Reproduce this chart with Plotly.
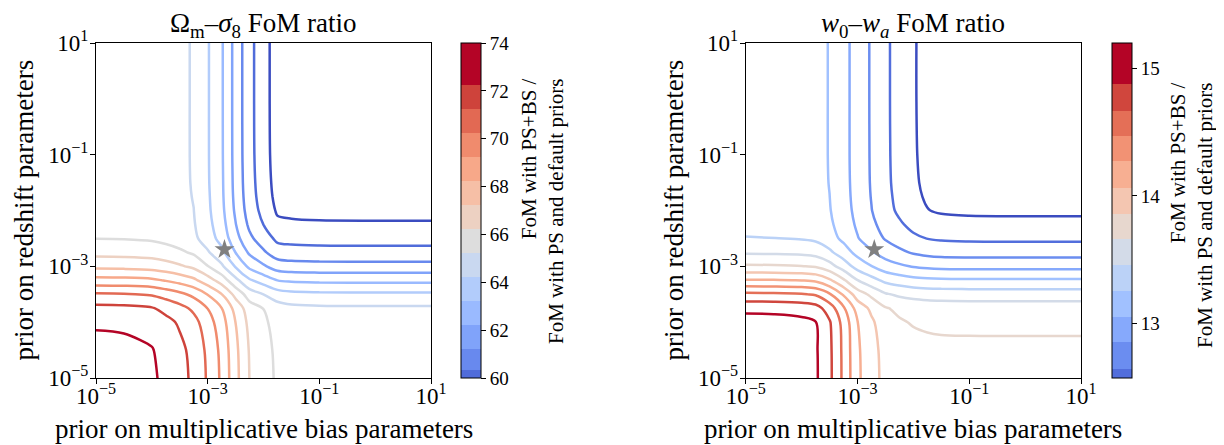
import numpy as np
import plotly.graph_objects as go

# ---------------- data ----------------
# grid of prior widths, as log10 exponents
log10_prior_m = [-5, -4.5, -4, -3.75, -3.5, -3.25, -3, -2.75, -2.5, -2.25, -2, -1.75, -1.5, -1, 0, 1]
log10_prior_z = [-5, -4.5, -4, -3.75, -3.5, -3.25, -3, -2.75, -2.5, -2.25, -2, -1.75, -1.5, -1, 0, 1]

# Omega_m - sigma_8 FoM ratio, rows follow log10_prior_z, columns follow log10_prior_m
fom_ratio_om_s8 = [
    [74.40, 74.35, 74.15, 73.78, 73.35, 72.79, 71.88, 70.82, 69.31, 67.98, 67.42, 66.84, 66.62, 66.53, 66.50, 66.50],
    [74.30, 74.25, 74.05, 73.68, 73.25, 72.70, 71.79, 70.74, 69.24, 67.92, 67.36, 66.79, 66.57, 66.48, 66.45, 66.45],
    [73.88, 73.83, 73.64, 73.28, 72.87, 72.33, 71.45, 70.44, 68.99, 67.71, 67.18, 66.63, 66.42, 66.33, 66.30, 66.30],
    [73.30, 73.25, 73.07, 72.72, 72.32, 71.80, 70.98, 70.02, 68.66, 67.46, 66.98, 66.47, 66.26, 66.18, 66.15, 66.15],
    [72.11, 72.07, 71.90, 71.59, 71.23, 70.75, 69.95, 69.02, 67.69, 66.51, 65.99, 65.46, 65.27, 65.20, 65.17, 65.17],
    [70.36, 70.32, 70.18, 69.93, 69.62, 69.21, 68.45, 67.56, 66.27, 65.13, 64.56, 63.99, 63.85, 63.78, 63.76, 63.76],
    [68.74, 68.71, 68.59, 68.40, 68.13, 67.78, 67.04, 66.18, 64.91, 63.77, 63.14, 62.53, 62.40, 62.35, 62.33, 62.33],
    [67.69, 67.66, 67.56, 67.40, 67.17, 66.85, 66.12, 65.26, 63.98, 62.84, 62.14, 61.48, 61.38, 61.33, 61.32, 61.32],
    [66.98, 66.96, 66.87, 66.73, 66.52, 66.23, 65.50, 64.65, 63.36, 62.21, 61.48, 60.78, 60.70, 60.66, 60.64, 60.64],
    [66.80, 66.78, 66.69, 66.58, 66.37, 66.08, 65.31, 64.41, 63.04, 61.80, 60.99, 60.22, 60.14, 60.10, 60.09, 60.09],
    [66.70, 66.68, 66.60, 66.49, 66.29, 66.01, 65.20, 64.26, 62.84, 61.55, 60.69, 59.87, 59.80, 59.76, 59.75, 59.75],
    [66.65, 66.63, 66.55, 66.44, 66.24, 65.96, 65.15, 64.19, 62.74, 61.43, 60.54, 59.70, 59.63, 59.59, 59.58, 59.58],
    [66.62, 66.60, 66.52, 66.42, 66.22, 65.93, 65.11, 64.16, 62.69, 61.37, 60.47, 59.62, 59.55, 59.51, 59.50, 59.50],
    [66.60, 66.58, 66.50, 66.40, 66.20, 65.92, 65.09, 64.13, 62.65, 61.32, 60.40, 59.55, 59.48, 59.44, 59.43, 59.43],
    [66.60, 66.58, 66.50, 66.40, 66.20, 65.92, 65.09, 64.12, 62.64, 61.30, 60.38, 59.52, 59.45, 59.41, 59.40, 59.40],
    [66.60, 66.58, 66.50, 66.40, 66.20, 65.92, 65.09, 64.12, 62.64, 61.30, 60.38, 59.52, 59.45, 59.41, 59.40, 59.40],
]

# w0 - wa FoM ratio
fom_ratio_w0_wa = [
    [15.300, 15.294, 15.270, 15.230, 15.046, 14.758, 14.436, 14.278, 14.140, 14.100, 14.084, 14.076, 14.072, 14.070, 14.070, 14.070],
    [15.296, 15.290, 15.266, 15.226, 15.042, 14.754, 14.430, 14.270, 14.130, 14.086, 14.068, 14.058, 14.052, 14.050, 14.050, 14.050],
    [15.280, 15.274, 15.248, 15.206, 15.020, 14.730, 14.406, 14.234, 14.080, 14.020, 13.986, 13.966, 13.956, 13.952, 13.950, 13.950],
    [15.150, 15.144, 15.120, 15.080, 14.904, 14.628, 14.320, 14.158, 14.014, 13.960, 13.930, 13.914, 13.906, 13.902, 13.900, 13.900],
    [14.842, 14.836, 14.816, 14.778, 14.622, 14.376, 14.102, 13.954, 13.820, 13.766, 13.732, 13.714, 13.706, 13.700, 13.700, 13.700],
    [14.416, 14.412, 14.394, 14.362, 14.232, 14.028, 13.804, 13.672, 13.554, 13.500, 13.462, 13.442, 13.432, 13.426, 13.424, 13.424],
    [14.028, 14.024, 14.008, 13.980, 13.876, 13.708, 13.524, 13.406, 13.296, 13.234, 13.186, 13.160, 13.146, 13.140, 13.138, 13.138],
    [13.774, 13.770, 13.756, 13.730, 13.638, 13.496, 13.338, 13.222, 13.112, 13.040, 12.980, 12.946, 12.928, 12.920, 12.918, 12.918],
    [13.606, 13.602, 13.588, 13.564, 13.482, 13.354, 13.212, 13.096, 12.986, 12.908, 12.838, 12.796, 12.776, 12.766, 12.764, 12.764],
    [13.560, 13.556, 13.542, 13.514, 13.436, 13.308, 13.170, 13.044, 12.922, 12.828, 12.744, 12.694, 12.670, 12.658, 12.656, 12.656],
    [13.540, 13.536, 13.520, 13.492, 13.412, 13.282, 13.144, 13.006, 12.872, 12.764, 12.664, 12.606, 12.578, 12.564, 12.560, 12.560],
    [13.530, 13.526, 13.510, 13.480, 13.402, 13.270, 13.132, 12.992, 12.856, 12.744, 12.640, 12.578, 12.548, 12.534, 12.530, 12.530],
    [13.524, 13.520, 13.504, 13.474, 13.394, 13.264, 13.126, 12.984, 12.846, 12.732, 12.626, 12.564, 12.534, 12.518, 12.514, 12.514],
    [13.520, 13.516, 13.500, 13.470, 13.390, 13.260, 13.122, 12.980, 12.840, 12.726, 12.618, 12.554, 12.524, 12.508, 12.504, 12.504],
    [13.520, 13.516, 13.500, 13.470, 13.390, 13.260, 13.122, 12.978, 12.838, 12.722, 12.614, 12.550, 12.520, 12.504, 12.500, 12.500],
    [13.520, 13.516, 13.500, 13.470, 13.390, 13.260, 13.122, 12.978, 12.838, 12.722, 12.614, 12.550, 12.520, 12.504, 12.500, 12.500],
]

levels_om_s8 = [60, 74, 1]        # start, end, step
levels_w0_wa = [12.6, 15.21, 0.2]

cbar_bounds_om_s8 = [60, 60.35, 61.2, 62.22, 63.22, 64.22, 65.23, 66.23, 67.23, 68.23, 69.24, 70.24, 71.24, 72.26, 74]
cbar_bounds_w0_wa = [12.57, 12.64, 12.85, 13.05, 13.25, 13.455, 13.66, 13.86, 14.065, 14.27, 14.47, 14.67, 14.88, 15.2]
cbar_ticks_om_s8 = [60, 62, 64, 66, 68, 70, 72, 74]
cbar_ticks_w0_wa = [13, 14, 15]

axis_tick_exponents = [-5, -3, -1, 1]
axis_tick_labels = ["10<sup>\u22125</sup>", "10<sup>\u22123</sup>", "10<sup>\u22121</sup>", "10<sup>1</sup>"]
default_prior = [0.002, 0.002]   # (multiplicative bias, redshift)

titles = ["\u03a9<sub>m</sub>\u2013<i>\u03c3</i><sub>8</sub> FoM ratio",
          "<i>w</i><sub>0</sub>\u2013<i>w</i><sub><i>a</i></sub> FoM ratio"]
xlabel = "prior on multiplicative bias parameters"
ylabel = "prior on redshift parameters"
cbar_title = "FoM with PS+BS /<br>FoM with PS and default priors"

# ---------------- styling ----------------
SERIF = "Liberation Serif"
CW = [(59,76,192),(68,90,204),(77,104,215),(87,117,225),(98,130,234),(108,142,241),(119,154,247),
      (130,165,251),(141,176,254),(152,185,255),(163,194,255),(174,201,253),(184,208,249),(194,213,244),
      (204,217,238),(213,219,230),(221,221,221),(229,216,209),(236,211,197),(241,204,185),(245,196,173),
      (247,187,160),(247,177,148),(247,166,135),(244,154,123),(241,141,111),(236,127,99),(229,112,88),
      (222,96,77),(213,80,66),(203,62,56),(192,40,47),(180,4,38)]
coolwarm_scale = [[i / (len(CW) - 1), "rgb(%d,%d,%d)" % c] for i, c in enumerate(CW)]


def cw(t):
    t = min(max(t, 0.0), 1.0) * (len(CW) - 1)
    i = min(int(t), len(CW) - 2)
    f = t - i
    c = [CW[i][k] + f * (CW[i + 1][k] - CW[i][k]) for k in range(3)]
    return "rgb(%d,%d,%d)" % tuple(round(v) for v in c)


def step_scale(bounds):
    lo, hi = bounds[0], bounds[-1]
    n = len(bounds) - 1
    sc = []
    for i in range(n):
        col = cw((i + 1) / n)
        sc.append([(bounds[i] - lo) / (hi - lo), col])
        sc.append([(bounds[i + 1] - lo) / (hi - lo), col])
    sc[0][0] = 0.0
    sc[-1][0] = 1.0
    return sc


# the page body has an 8 px default margin: the figure is sized and placed to compensate
OFF = 8
W, H = 1224 - OFF, 445 - OFF
ML, MR, MT, MB = 96 - OFF, 143, 43 - OFF, 67
PW = W - ML - MR
PH = H - MT - MB
px = lambda p: (p - OFF - ML) / PW          # page pixel x -> paper x
py = lambda p: (H - MB - (p - OFF)) / PH    # page pixel y -> paper y

dom1 = [0.0, px(431)]
dom2 = [px(745.7), 1.0]

fig = go.Figure()

star_xy = np.log10(default_prior)
panels = [
    (fom_ratio_om_s8, levels_om_s8, cbar_bounds_om_s8, cbar_ticks_om_s8, "x", "y", px(461)),
    (fom_ratio_w0_wa, levels_w0_wa, cbar_bounds_w0_wa, cbar_ticks_w0_wa, "x2", "y2", px(1112)),
]
for z, lev, bounds, cticks, xa, ya, cbx in panels:
    fig.add_trace(go.Contour(
        x=log10_prior_m, y=log10_prior_z, z=z,
        autocontour=False,
        contours=dict(start=lev[0], end=lev[1], size=lev[2], coloring="lines"),
        colorscale=coolwarm_scale, showscale=False,
        line=dict(width=2.5, smoothing=0.9),
        xaxis=xa, yaxis=ya, hoverinfo="skip",
    ))
    fig.add_trace(go.Scatter(
        x=[star_xy[0]], y=[star_xy[1]], mode="markers",
        marker=dict(symbol="star", size=15, color="#808080", line=dict(width=0)),
        xaxis=xa, yaxis=ya, showlegend=False, hoverinfo="skip",
    ))
    fig.add_trace(go.Scatter(
        x=[star_xy[0], star_xy[0]], y=[star_xy[1], star_xy[1]], mode="markers",
        marker=dict(size=1, opacity=0, color=[bounds[0], bounds[-1]],
                    cmin=bounds[0], cmax=bounds[-1], colorscale=step_scale(bounds),
                    showscale=True,
                    colorbar=dict(
                        x=cbx, xanchor="left", y=0.5, yanchor="middle",
                        len=1, lenmode="fraction", thickness=20, thicknessmode="pixels",
                        xpad=0, ypad=0, outlinewidth=1, outlinecolor="black",
                        tickmode="array", tickvals=cticks, ticks="outside", ticklen=5,
                        tickwidth=1, tickcolor="black",
                        tickfont=dict(family=SERIF, size=19, color="black"),
                    )),
        xaxis=xa, yaxis=ya, showlegend=False, hoverinfo="skip",
    ))

axis_common = dict(
    range=[-5, 1], tickmode="array", tickvals=axis_tick_exponents, ticktext=axis_tick_labels,
    showgrid=False, zeroline=False, showline=True, linecolor="black", linewidth=1, mirror=True,
    ticks="outside", ticklen=5, tickwidth=1, tickcolor="black",
    tickfont=dict(family=SERIF, size=23, color="black"),
)
fig.update_layout(
    width=W, height=H, margin=dict(l=ML, r=MR, t=MT, b=MB),
    paper_bgcolor="white", plot_bgcolor="white", showlegend=False,
    xaxis=dict(domain=dom1, anchor="y", ticklabelstandoff=-8, **axis_common),
    yaxis=dict(domain=[0, 1], anchor="x", ticklabelstandoff=-3, **axis_common),
    xaxis2=dict(domain=dom2, anchor="y2", ticklabelstandoff=-8, **axis_common),
    yaxis2=dict(domain=[0, 1], anchor="x2", ticklabelstandoff=-3, **axis_common),
)

ann = []
for dom, ylx, t, cbt in [(dom1, px(23), titles[0], (542, 211)), (dom2, px(673), titles[1], (1191, 215))]:
    cx = (dom[0] + dom[1]) / 2
    ann.append(dict(x=cx, y=py(25), xref="paper", yref="paper", text=t, showarrow=False,
                    xanchor="center", yanchor="middle", font=dict(family=SERIF, size=27, color="black")))
    ann.append(dict(x=cx, y=py(429), xref="paper", yref="paper", text=xlabel, showarrow=False,
                    xanchor="center", yanchor="middle", font=dict(family=SERIF, size=27, color="black")))
    ann.append(dict(x=ylx, y=0.5, xref="paper", yref="paper", text=ylabel, showarrow=False,
                    textangle=-90, xanchor="center", yanchor="middle",
                    font=dict(family=SERIF, size=27, color="black")))
    ann.append(dict(x=px(cbt[0]), y=py(cbt[1]), xref="paper", yref="paper", text=cbar_title,
                    showarrow=False, textangle=-90, align="right",
                    xanchor="center", yanchor="middle",
                    font=dict(family=SERIF, size=21, color="black")))
fig.update_layout(annotations=ann)

fig.write_html("out.html")
